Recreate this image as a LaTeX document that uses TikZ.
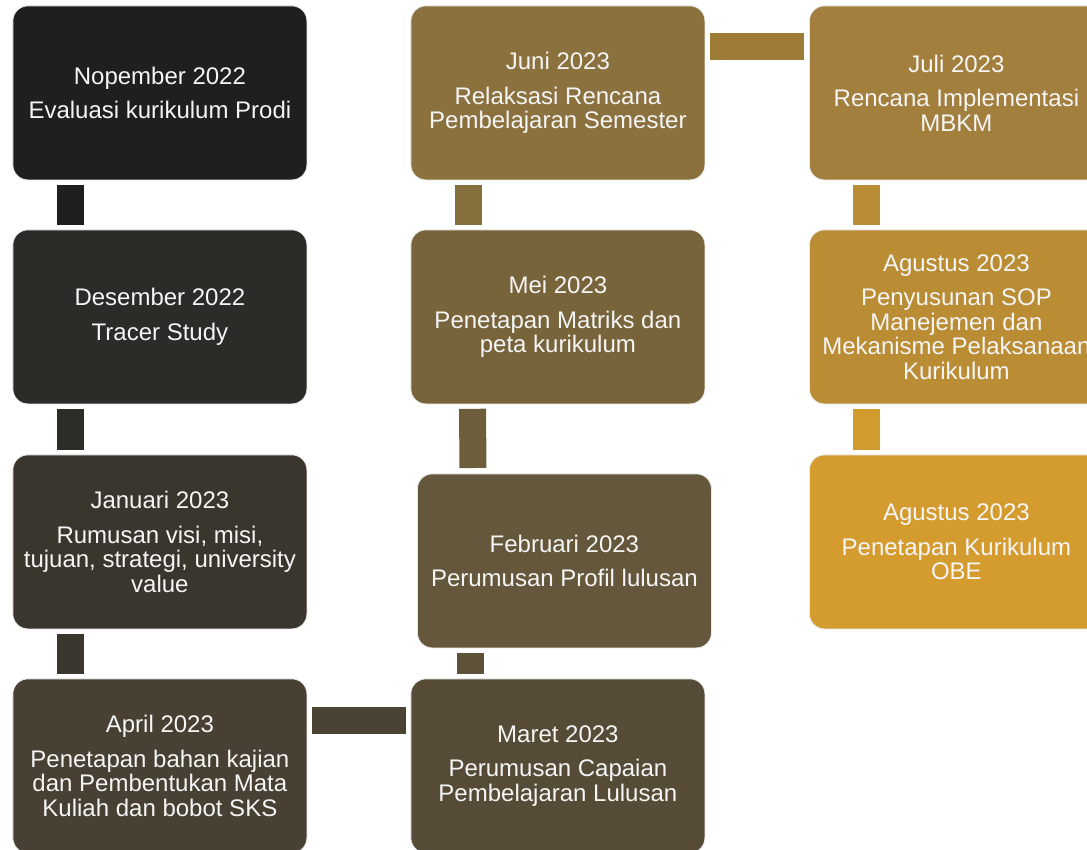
\documentclass[tikz,border=0pt]{standalone}
\usepackage{fontspec}
\setmainfont{Liberation Sans}
\definecolor{cNov}{HTML}{1F1F1F}
\definecolor{cDes}{HTML}{2D2B27}
\definecolor{cJan}{HTML}{3A362D}
\definecolor{cApr}{HTML}{484032}
\definecolor{cMar}{HTML}{564B37}
\definecolor{cFeb}{HTML}{65573B}
\definecolor{cMei}{HTML}{78643A}
\definecolor{cJun}{HTML}{8B713D}
\definecolor{cJul}{HTML}{A37F3D}
\definecolor{cAgA}{HTML}{BA8D35}
\definecolor{cAgB}{HTML}{D49C2E}
\definecolor{kND}{HTML}{1F1F1F}
\definecolor{kDJ}{HTML}{2E2C27}
\definecolor{kJA}{HTML}{3B372E}
\definecolor{kAM}{HTML}{4A4233}
\definecolor{kMF}{HTML}{5E5139}
\definecolor{kFM}{HTML}{6E5D3B}
\definecolor{kMJ}{HTML}{85703D}
\definecolor{kJJ}{HTML}{9E7C38}
\definecolor{kJA2}{HTML}{B88D35}
\definecolor{kAA}{HTML}{D29B2D}
\tikzset{
  stagebox/.style={rectangle, rounded corners=15pt, draw=white!82!gray, line width=0.8pt,
    minimum width=294pt, minimum height=174pt, inner sep=0pt, anchor=north west,
    align=center, text=white!96!black, font=\fontsize{24}{24.5}\selectfont},
  vlink/.style={line width=27pt, shorten <=4.5pt, shorten >=4.5pt},
  hlink/.style={line width=27pt, shorten <=5pt, shorten >=5pt}
}
\newcommand{\stg}[2]{#1\\[10pt]#2}
\begin{document}
\begin{tikzpicture}[x=1pt,y=-1pt]
\useasboundingbox (0,0) rectangle (1087,849);
\clip (0,0) rectangle (1087,849);
% column 1
\node[stagebox, fill=cNov] (nov) at (12.5,5.5) {\stg{Nopember 2022}{Evaluasi kurikulum Prodi}};
\node[stagebox, fill=cDes] (des) at (12.5,229.5) {\stg{Desember 2022}{Tracer Study}};
\node[stagebox, fill=cJan] (jan) at (12.5,454.5) {\stg{Januari 2023}{Rumusan visi, misi,\\tujuan, strategi, university\\value}};
\node[stagebox, fill=cApr] (apr) at (12.5,678.5) {\stg{April 2023}{Penetapan bahan kajian\\dan Pembentukan Mata\\Kuliah dan bobot SKS}};
% column 2
\node[stagebox, fill=cJun] (jun) at (410.5,5.5) {\stg{Juni 2023}{Relaksasi Rencana\\Pembelajaran Semester}};
\node[stagebox, fill=cMei] (mei) at (410.5,229.5) {\stg{Mei 2023}{Penetapan Matriks dan\\peta kurikulum}};
\node[stagebox, fill=cFeb] (feb) at (417,473.5) {\stg{Februari 2023}{Perumusan Profil lulusan}};
\node[stagebox, fill=cMar] (mar) at (410.5,678.5) {\stg{Maret 2023}{Perumusan Capaian\\Pembelajaran Lulusan}};
% column 3
\node[stagebox, fill=cJul] (jul) at (809,5.5) {\stg{Juli 2023}{Rencana Implementasi\\MBKM}};
\node[stagebox, fill=cAgA] (agA) at (809,229.5) {\stg{Agustus 2023}{Penyusunan SOP\\Manejemen dan\\Mekanisme Pelaksanaan\\Kurikulum}};
\node[stagebox, fill=cAgB] (agB) at (809,454.5) {\stg{Agustus 2023}{Penetapan Kurikulum\\OBE}};
% connectors
\draw[vlink, kND] ([xshift=58pt]nov.south west) -- ([xshift=58pt]des.north west);
\draw[vlink, kDJ] ([xshift=58pt]des.south west) -- ([xshift=58pt]jan.north west);
\draw[vlink, kJA] ([xshift=58pt]jan.south west) -- ([xshift=58pt]apr.north west);
\draw[hlink, kAM] ([yshift=-41.5pt]apr.north east) -- ([yshift=-41.5pt]mar.north west);
\draw[vlink, kMF] ([xshift=60pt]mar.north west) -- ([xshift=53.5pt]feb.south west);
\draw[vlink, kFM, shorten <=5.5pt] ([xshift=56pt]feb.north west) -- ([xshift=62pt]mei.south west);
\draw[vlink, kMJ] ([xshift=58pt]mei.north west) -- ([xshift=58pt]jun.south west);
\draw[hlink, kJJ] ([yshift=-41pt]jun.north east) -- ([yshift=-41pt]jul.north west);
\draw[vlink, kJA2] ([xshift=57.5pt]jul.south west) -- ([xshift=57.5pt]agA.north west);
\draw[vlink, kAA] ([xshift=57.5pt]agA.south west) -- ([xshift=57.5pt]agB.north west);
\end{tikzpicture}
\end{document}
